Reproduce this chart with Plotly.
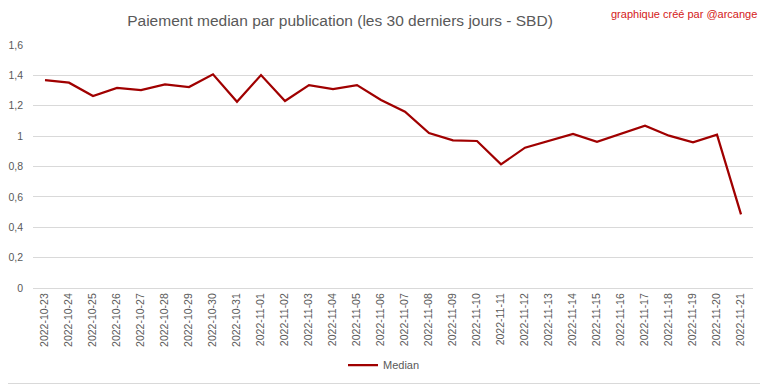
import plotly.graph_objects as go

dates = ["2022-10-23", "2022-10-24", "2022-10-25", "2022-10-26", "2022-10-27", "2022-10-28",
         "2022-10-29", "2022-10-30", "2022-10-31", "2022-11-01", "2022-11-02", "2022-11-03",
         "2022-11-04", "2022-11-05", "2022-11-06", "2022-11-07", "2022-11-08", "2022-11-09",
         "2022-11-10", "2022-11-11", "2022-11-12", "2022-11-13", "2022-11-14", "2022-11-15",
         "2022-11-16", "2022-11-17", "2022-11-18", "2022-11-19", "2022-11-20", "2022-11-21"]
median = [1.369, 1.352, 1.264, 1.317, 1.303, 1.340, 1.323, 1.407, 1.226, 1.402, 1.231, 1.336,
          1.310, 1.336, 1.238, 1.161, 1.020, 0.972, 0.968, 0.814, 0.924, 0.968, 1.014, 0.963,
          1.014, 1.068, 1.003, 0.959, 1.009, 0.485]
y_ticks = [0, 0.2, 0.4, 0.6, 0.8, 1.0, 1.2, 1.4, 1.6]
y_ticklabels = ["0", "0,2", "0,4", "0,6", "0,8", "1", "1,2", "1,4", "1,6"]

# page body has an 8px default margin, so the figure is sized to fit the window
OFF = 8
W, H = 768 - OFF, 384 - OFF
L, R, T, B = 33 - OFF, 15, 45 - OFF, 96
pw, ph = W - L - R, H - T - B

fig = go.Figure()
fig.add_trace(go.Scatter(x=dates, y=median, mode="lines", name="Median",
                         line=dict(color="#a00000", width=2.25)))

gray = "#595959"


def px_x(x):
    return (x - OFF - L) / pw


def px_y(y):
    return (H - B - (y - OFF)) / ph


fig.update_layout(
    width=W, height=H,
    margin=dict(l=L, r=R, t=T, b=B, autoexpand=False),
    paper_bgcolor="white", plot_bgcolor="white",
    font=dict(family="Liberation Sans", color=gray, size=11),
    title=dict(text="Paiement median par publication (les 30 derniers jours - SBD)",
               x=(340 - OFF) / W, xref="container", xanchor="center",
               y=1 - (21 - OFF) / H, yref="container", yanchor="middle",
               font=dict(size=15.5, color=gray)),
    showlegend=True,
    legend=dict(orientation="h", x=(384 - OFF) / W, xref="container", xanchor="center",
                y=1 - (365 - OFF) / H, yref="container", yanchor="middle",
                font=dict(size=11, color=gray), bgcolor="rgba(0,0,0,0)"),
    xaxis=dict(type="category", range=[-0.5, len(dates) - 0.5], tickangle=-90,
               showgrid=False, showline=True, linecolor="#d9d9d9", linewidth=1,
               ticks="", tickfont=dict(size=10.5, color=gray), fixedrange=True),
    yaxis=dict(range=[0, 1.6], tickvals=y_ticks, ticktext=y_ticklabels,
               showgrid=True, gridcolor="#d9d9d9", gridwidth=1, zeroline=False,
               showline=False, ticks="", ticklabelstandoff=9,
               tickfont=dict(size=10.5, color=gray)),
    annotations=[dict(text="graphique créé par @arcange", xref="paper", yref="paper",
                      x=px_x(759), y=px_y(14), xanchor="right", yanchor="middle",
                      showarrow=False, font=dict(size=11, color="#d42020"))],
    shapes=[
        dict(type="line", xref="paper", yref="paper",
             x0=px_x(767.5), x1=px_x(767.5), y0=px_y(0), y1=px_y(383.5),
             line=dict(color="#d9d9d9", width=1), layer="below"),
        dict(type="line", xref="paper", yref="paper",
             x0=px_x(0), x1=px_x(767.5), y0=px_y(383.5), y1=px_y(383.5),
             line=dict(color="#d9d9d9", width=1), layer="below"),
    ],
)

fig.write_html("out.html")
